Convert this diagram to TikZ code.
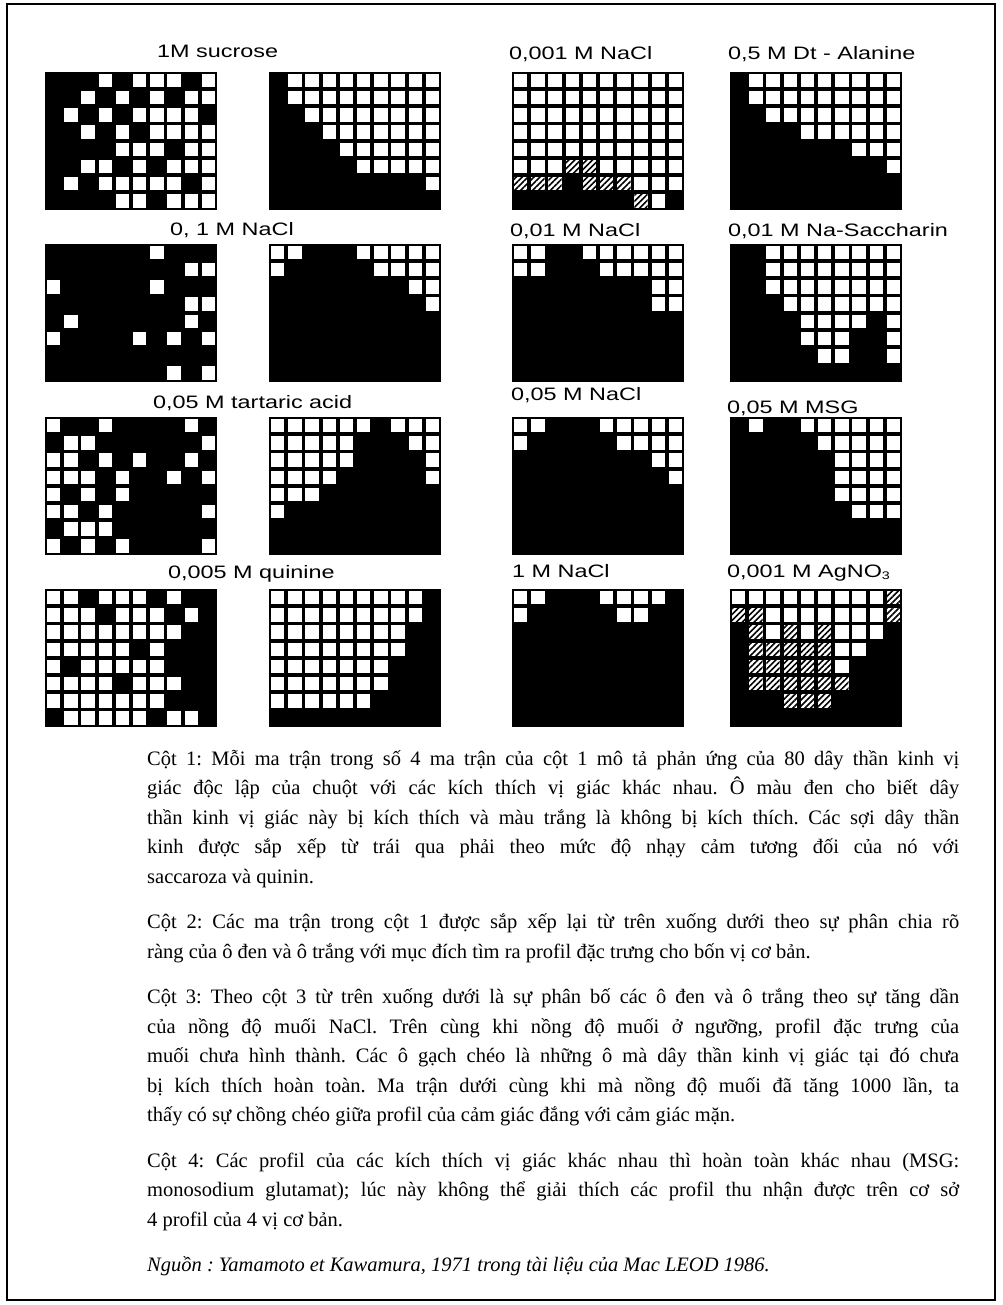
\documentclass[tikz,border=0pt]{standalone}
\usepackage{fontspec}
\setmainfont{Liberation Serif}
\newfontfamily\nhanfont[FakeStretch=1.3]{Liberation Sans}
\usetikzlibrary{patterns.meta}

% ma tran 10 x 8: #1,#2 goc tren trai, #3 cac cot o trang cua tung hang
\newcommand{\matran}[3]{%
	\fill (#1,#2) rectangle ++(172,137.6);
	\foreach \hang [count=\r from 0] in {#3}
		\foreach \c in \hang {
			\ifnum\c>-1
				\fill[white] ({#1+\c*17.2+1.9},{#2+\r*17.2+1.9}) rectangle ++(13.4,13.4);
			\fi
		}
}
% o gach cheo: #3 danh sach hang/cot
\newcommand{\gach}[3]{%
	\foreach \r/\c in {#3} {
		\fill[white] ({#1+\c*17.2+1.9},{#2+\r*17.2+1.9}) rectangle ++(13.4,13.4);
		\fill[pattern={Lines[angle=45,distance=4.2pt,line width=1.6pt]}]
			({#1+\c*17.2+1.9},{#2+\r*17.2+1.9}) rectangle ++(13.4,13.4);
	}
}

\begin{document}
\begin{tikzpicture}[x=1pt, y=-1pt,
	nhan/.style={font=\nhanfont\fontsize{18}{20}\selectfont, anchor=base west, inner sep=0pt}]

\useasboundingbox (0,0) rectangle (1002,1305);
\draw[line width=1.3pt] (7,4) rectangle (995,1300);

% Hang 1
\node[nhan] (sucrose) at (157,58) {1M sucrose};
\node[nhan] (nacla) at (509,60) {0,001 M NaCl};
\node[nhan] (alanine) at (728,60) {0,5 M Dt - Alanine};
\matran{45}{72}{{3,5,6,7,9},{2,4,6,8,9},{1,3,5,6,7,8},{2,4,6,7,8,9},{4,5,6,8,9},{2,3,5,7,8,9},{1,3,4,5,6,7,9},{4,5,7,8,9}}
\matran{269}{72}{{1,2,3,4,5,6,7,8,9},{1,2,3,4,5,6,7,8,9},{2,3,4,5,6,7,8,9},{3,4,5,6,7,8,9},{4,5,6,7,8,9},{5,6,7,8,9},{9},{-1}}
\matran{512}{72}{{0,1,2,3,4,5,6,7,8,9},{0,1,2,3,4,5,6,7,8,9},{0,1,2,3,4,5,6,7,8,9},{0,1,2,3,4,5,6,7,8,9},{0,1,2,3,4,5,6,7,8,9},{0,1,2,5,6,7,8,9},{7,8,9},{8}}
\gach{512}{72}{5/3,5/4,6/0,6/1,6/2,6/4,6/5,6/6,7/7}
\matran{730}{72}{{1,2,3,4,5,6,7,8,9},{1,2,3,4,5,6,7,8,9},{2,3,4,5,6,7,8,9},{4,5,6,7,8,9},{7,8,9},{9},{-1},{-1}}

% Hang 2
\node[nhan] (naclb) at (170,236) {0, 1 M NaCl};
\node[nhan] (naclc) at (510,237) {0,01 M NaCl};
\node[nhan] (saccharin) at (728,237) {0,01 M Na-Saccharin};
\matran{45}{244}{{6},{8,9},{0,6},{8,9},{1,8},{0,5,7,9},{-1},{7,9}}
\matran{269}{244}{{0,1,5,6,7,8,9},{0,6,7,8,9},{8,9},{9},{-1},{-1},{-1},{-1}}
\matran{512}{244}{{0,1,4,5,6,7,8,9},{0,1,5,6,7,8,9},{8,9},{8,9},{-1},{-1},{-1},{-1}}
\matran{730}{244}{{2,3,4,5,6,7,8,9},{2,3,4,5,6,7,8,9},{2,3,4,5,6,7,8,9},{3,4,5,6,7,8,9},{4,5,6,7,9},{4,5,6,9},{5,6,9},{-1}}

% Hang 3
\node[nhan] (tartaric) at (153,408) {0,05 M tartaric acid};
\node[nhan] (nacld) at (511,400) {0,05 M NaCl};
\node[nhan] (msg) at (727,413) {0,05 M MSG};
\matran{45}{417}{{0,3,8},{1,2,9},{0,1,3,5,8},{0,1,2,4,7,9},{0,2,4},{0,1,3,9},{1,2,3},{0,2,4,9}}
\matran{269}{417}{{0,1,2,3,4,5,7,8,9},{0,1,2,3,4,8,9},{0,1,2,3,4,9},{0,1,2,3,9},{0,1,2},{0},{-1},{-1}}
\matran{512}{417}{{0,1,5,6,7,8,9},{0,6,7,8,9},{8,9},{9},{-1},{-1},{-1},{-1}}
\matran{730}{417}{{1,4,5,6,7,8,9},{5,6,7,8,9},{6,7,8,9},{6,7,8,9},{6,7,8,9},{7,8,9},{-1},{-1}}

% Hang 4
\node[nhan] (quinine) at (168,578) {0,005 M quinine};
\node[nhan] (nacle) at (512,577) {1 M NaCl};
\node[nhan] (agno) at (727,577) {0,001 M AgNO\raisebox{-0.3ex}{\fontsize{11}{12}\selectfont 3}};
\matran{45}{589}{{0,1,3,4,5,7},{0,1,2,4,5,6,8},{0,1,2,3,4,5,6,7},{0,1,2,3,4,6},{0,2,3,4,5,6},{0,1,2,3,5,6,7},{0,1,2,3,4,5,6},{1,2,3,4,5,7,8}}
\matran{269}{589}{{0,1,2,3,4,5,6,7,8},{0,1,2,3,4,5,6,7,8},{0,1,2,3,4,5,6,7},{0,1,2,3,4,5,6,7},{0,1,2,3,4,5,6},{0,1,2,3,4,5,6},{0,1,2,3,4,5},{-1}}
\matran{512}{589}{{0,1,5,6,7,8},{0,6,7},{-1},{-1},{-1},{-1},{-1},{-1}}
\matran{730}{589}{{0,1,2,3,4,5,6,7,8},{2,3,4,5,6,7,8},{2,4,6,7,8},{6,7},{6},{-1},{-1},{-1}}
\gach{730}{589}{0/9,1/0,1/1,1/9,2/1,2/3,2/5,3/1,3/2,3/3,3/4,3/5,4/1,4/2,4/3,4/4,4/5,5/1,5/2,5/3,5/4,5/5,5/6,6/3,6/4,6/5}

% Chu thich
\node[anchor=north west, text width=812pt, align=justify, inner sep=0pt,
	font=\fontsize{20.5}{29.5}\selectfont] (ghichu) at (147,750) {%
\parindent=0pt \hyphenpenalty=10000 \tolerance=9999 \frenchspacing
Cột 1: Mỗi ma trận trong số 4 ma trận của cột 1 mô tả phản ứng của 80 dây thần kinh vị\linebreak
giác độc lập của chuột với các kích thích vị giác khác nhau. Ô màu đen cho biết dây\linebreak
thần kinh vị giác này bị kích thích và màu trắng là không bị kích thích. Các sợi dây thần\linebreak
kinh được sắp xếp từ trái qua phải theo mức độ nhạy cảm tương đối của nó với\linebreak
saccaroza và quinin.\par\vspace{16pt}
Cột 2: Các ma trận trong cột 1 được sắp xếp lại từ trên xuống dưới theo sự phân chia rõ\linebreak
ràng của ô đen và ô trắng với mục đích tìm ra profil đặc trưng cho bốn vị cơ bản.\par\vspace{16pt}
Cột 3: Theo cột 3 từ trên xuống dưới là sự phân bố các ô đen và ô trắng theo sự tăng dần\linebreak
của nồng độ muối NaCl. Trên cùng khi nồng độ muối ở ngưỡng, profil đặc trưng của\linebreak
muối chưa hình thành. Các ô gạch chéo là những ô mà dây thần kinh vị giác tại đó chưa\linebreak
bị kích thích hoàn toàn. Ma trận dưới cùng khi mà nồng độ muối đã tăng 1000 lần, ta\linebreak
thấy có sự chồng chéo giữa profil của cảm giác đắng với cảm giác mặn.\par\vspace{16pt}
Cột 4: Các profil của các kích thích vị giác khác nhau thì hoàn toàn khác nhau (MSG:\linebreak
monosodium glutamat); lúc này không thể giải thích các profil thu nhận được trên cơ sở\linebreak
4 profil của 4 vị cơ bản.\par\vspace{16pt}
\textit{Nguồn : Yamamoto et Kawamura, 1971 trong tài liệu của Mac LEOD 1986.}};

\end{tikzpicture}
\end{document}
